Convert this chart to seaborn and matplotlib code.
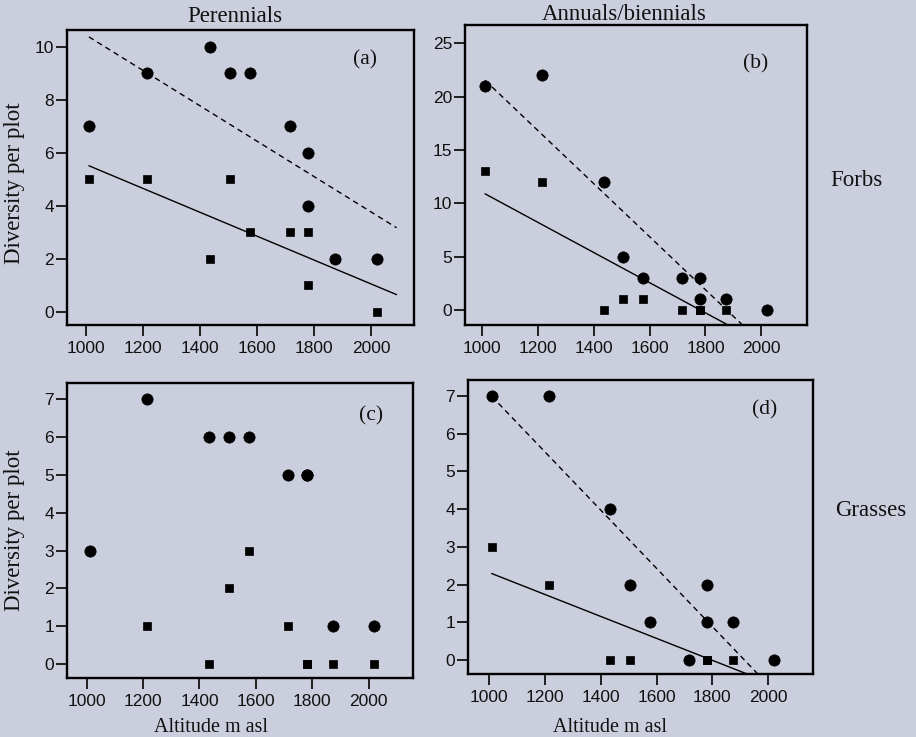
import numpy as np
import pandas as pd
import matplotlib
matplotlib.use("Agg")
import matplotlib.pyplot as plt
from matplotlib import font_manager
import seaborn as sns

# ---------------- data ----------------
altitude = [1010, 1215, 1435, 1505, 1575, 1715, 1780, 1780, 1875, 2020]

# (a) perennial forbs
a_circle = [7, 9, 10, 9, 9, 7, 6, 4, 2, 2]
a_square = [5, 5, 2, 5, 3, 3, 3, 1, 2, 0]
# (b) annual/biennial forbs
b_circle = [21, 22, 12, 5, 3, 3, 3, 1, 1, 0]
b_square = [13, 12, 0, 1, 1, 0, 0, 0, 0, 0]
# (c) perennial grasses
c_circle = [3, 7, 6, 6, 6, 5, 5, 5, 1, 1]
c_square = [3, 1, 0, 2, 3, 1, 0, 0, 0, 0]
# (d) annual/biennial grasses
d_circle = [7, 7, 4, 2, 1, 0, 2, 1, 1, 0]
d_square = [3, 2, 0, 0, 1, 0, 0, 0, 0, 0]

x_ticks = [1000, 1200, 1400, 1600, 1800, 2000]
col_titles = ["Perennials", "Annuals/biennials"]
row_titles = ["Forbs", "Grasses"]
panel_labels = ["(a)", "(b)", "(c)", "(d)"]
y_label = "Diversity per plot"
x_label = "Altitude m asl"
fit_range = [1010, 2090]

# ---------------- style ----------------
BG = "#cbcfdd"
sns.set_theme(style="ticks")
installed = {f.name for f in font_manager.fontManager.ttflist}
if "Liberation Sans Narrow" in installed:
    TICK_FAMILY, TICK_SIZE = "Liberation Sans Narrow", 14
elif "DejaVu Sans Condensed" in installed:
    TICK_FAMILY, TICK_SIZE = "DejaVu Sans Condensed", 12.5
else:
    TICK_FAMILY, TICK_SIZE = "Liberation Sans", 12.5
plt.rcParams["font.family"] = [TICK_FAMILY, "Liberation Sans", "DejaVu Sans"]
SERIF = ["Liberation Serif", "DejaVu Serif"]

fig = plt.figure(figsize=(9.16, 7.37), dpi=100, facecolor=BG)

panels = [
    dict(circ=a_circle, sq=a_square, fit=True,
         pos=[0.0731, 0.5590, 0.3788, 0.4003], xlim=(933, 2151), ylim=(-0.49, 10.63),
         yticks=[0, 2, 4, 6, 8, 10], lab=(0.86, 0.90)),
    dict(circ=b_circle, sq=b_square, fit=True,
         pos=[0.5076, 0.5590, 0.3734, 0.4070], xlim=(938, 2164), ylim=(-1.39, 26.7),
         yticks=[0, 5, 10, 15, 20, 25], lab=(0.85, 0.87)),
    dict(circ=c_circle, sq=c_square, fit=False,
         pos=[0.0731, 0.0801, 0.3777, 0.4003], xlim=(930, 2157), ylim=(-0.36, 7.42),
         yticks=list(range(8)), lab=(0.88, 0.89)),
    dict(circ=d_circle, sq=d_square, fit=True,
         pos=[0.5109, 0.0855, 0.3766, 0.3989], xlim=(925, 2160), ylim=(-0.37, 7.42),
         yticks=list(range(8)), lab=(0.86, 0.90)),
]

for i, p in enumerate(panels):
    ax = fig.add_axes(p["pos"])
    ax.set_facecolor(BG)
    df = pd.DataFrame({"alt": altitude, "circle": p["circ"], "square": p["sq"]})

    if p["fit"]:
        xs = np.array(fit_range, dtype=float)
        for col, dashed in (("circle", True), ("square", False)):
            m, b = np.polyfit(df["alt"], df[col], 1)
            line_df = pd.DataFrame({"alt": xs, "fit": m * xs + b})
            sns.lineplot(data=line_df, x="alt", y="fit", ax=ax, color="black",
                         linewidth=1.0, zorder=2)
            if dashed:
                ax.lines[-1].set_dashes([4, 3])

    sns.scatterplot(data=df, x="alt", y="square", ax=ax, marker="s", s=38,
                    color="black", edgecolor="black", linewidth=0.5, zorder=3)
    sns.scatterplot(data=df, x="alt", y="circle", ax=ax, marker="o", s=66,
                    color="black", edgecolor="black", linewidth=0.5, zorder=4)

    ax.set_xlim(*p["xlim"])
    ax.set_ylim(*p["ylim"])
    ax.set_xticks(x_ticks)
    ax.set_yticks(p["yticks"])
    ax.set_xlabel("")
    ax.set_ylabel("")
    for s in ax.spines.values():
        s.set_visible(True)
        s.set_color("black")
        s.set_linewidth(1.7)
    ax.tick_params(axis="both", direction="out", length=8, width=1.3,
                   colors="#111111", labelsize=TICK_SIZE)
    ax.tick_params(axis="x", pad=3.5)
    ax.tick_params(axis="y", pad=1.2)
    ax.tick_params(top=False, right=False)
    ax.text(p["lab"][0], p["lab"][1], panel_labels[i], transform=ax.transAxes,
            ha="center", va="center", fontsize=15.5, family=SERIF, color="#111111")

W, H = 916, 737
def ftext(x, y, s, **kw):
    fig.text(x / W, 1 - y / H, s, ha="center", va="center", family=SERIF,
             color="#111111", **kw)

ftext(235, 17, col_titles[0], fontsize=16.5)
ftext(624, 15, col_titles[1], fontsize=16.5)
ftext(856, 180, row_titles[0], fontsize=16.5)
ftext(871, 510, row_titles[1], fontsize=16.5)
ftext(15, 183, y_label, fontsize=16.5, rotation=90)
ftext(15, 530, y_label, fontsize=16.5, rotation=90)
ftext(211, 727, x_label, fontsize=14.5)
ftext(610, 727, x_label, fontsize=14.5)

fig.savefig("out.png", dpi=100, facecolor=BG)
